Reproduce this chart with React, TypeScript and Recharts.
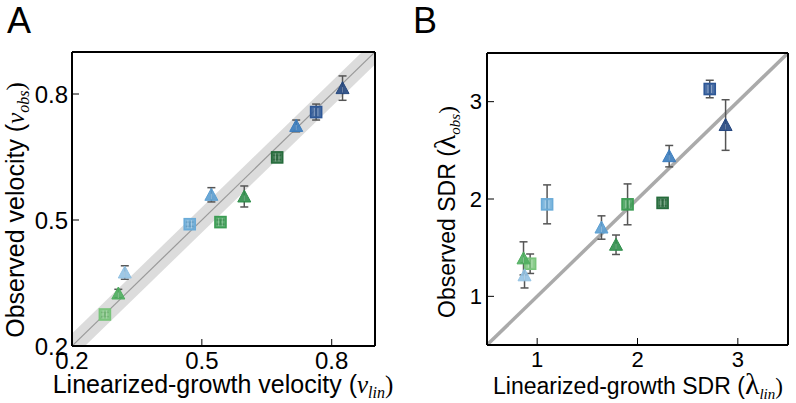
import React from "react"
import {
    ComposedChart,
    Scatter,
    Line,
    Area,
    XAxis,
    YAxis,
    ErrorBar,
} from "recharts"

// one entry per condition, same order in both panels
const markerShapes = ["square", "triangle", "triangle", "square", "triangle", "square", "triangle", "square", "triangle", "square", "triangle"]
const markerColors = ["#78c47a", "#4fae5f", "#93c2e3", "#6aabd8", "#5c9fd2", "#3b9c53", "#2e8e4a", "#256b3b", "#3a7cbe", "#2d5797", "#25477f"]

// panel A: velocities
const velLin = [0.276, 0.307, 0.322, 0.472, 0.522, 0.543, 0.598, 0.674, 0.718, 0.764, 0.825]
const velObs = [0.275, 0.325, 0.375, 0.49, 0.56, 0.495, 0.556, 0.649, 0.724, 0.757, 0.814]
const velErr = [0.005, 0.01, 0.016, 0.005, 0.017, 0.005, 0.025, 0.005, 0.014, 0.019, 0.029]
const velTicks = [0.2, 0.5, 0.8]
const velDomain = [0.2, 0.9]
const velBand = 0.03

// panel B: SDR
const sdrLin = [0.93, 0.864, 0.874, 1.099, 1.641, 1.901, 1.786, 2.25, 2.316, 2.72, 2.878]
const sdrObs = [1.335, 1.39, 1.216, 1.945, 1.707, 1.945, 1.53, 1.96, 2.44, 3.13, 2.76]
const sdrErr = [0.1, 0.17, 0.13, 0.2, 0.12, 0.21, 0.1, 0.03, 0.11, 0.09, 0.26]
const sdrTicks = [1, 2, 3]
const sdrDomain = [0.5, 3.5]

const velRows = velLin.map((x, k) => ({ x, y: velObs[k], err: velErr[k], k }))
const sdrRows = sdrLin.map((x, k) => ({ x, y: sdrObs[k], err: sdrErr[k], k }))
const velDiag = velDomain.map((x) => ({ x, y: x, band: [x - velBand, x + velBand] }))
const sdrDiag = sdrDomain.map((x) => ({ x, y: x }))

const SANS = "Liberation Sans, Arial, sans-serif"
const SERIF = "Liberation Serif, DejaVu Serif, serif"

function Marker(props: any) {
    const { cx, cy, payload } = props
    if (cx == null || cy == null) return null
    const c = markerColors[payload.k]
    if (markerShapes[payload.k] === "square") {
        const s = 5.5
        return (
            <g>
                <rect x={cx - s} y={cy - s} width={2 * s} height={2 * s} fill={c} fillOpacity={0.85} stroke={c} strokeWidth={1.6} />
                <line x1={cx - 1.8} x2={cx - 1.8} y1={cy - s + 1.5} y2={cy + s - 1.5} stroke="#fff" strokeOpacity={0.45} strokeWidth={0.8} />
                <line x1={cx + 1.8} x2={cx + 1.8} y1={cy - s + 1.5} y2={cy + s - 1.5} stroke="#fff" strokeOpacity={0.45} strokeWidth={0.8} />
            </g>
        )
    }
    const h = 6.5
    return (
        <g>
            <polygon points={`${cx},${cy - h} ${cx - h},${cy + h - 1} ${cx + h},${cy + h - 1}`} fill={c} fillOpacity={0.9} stroke={c} strokeWidth={1} />
            <line x1={cx} x2={cx} y1={cy - 1} y2={cy + h - 2} stroke="#fff" strokeOpacity={0.4} strokeWidth={0.8} />
        </g>
    )
}

const frame = { stroke: "#000", strokeWidth: 2 }
const tickLine = { stroke: "#000", strokeWidth: 1 }

function PanelA() {
    return (
        <div style={{ position: "absolute", left: 0, top: 0, width: 400, height: 403 }}>
            <ComposedChart width={400} height={403} margin={{ top: 42, right: 15, bottom: 27, left: 22 }} style={{ fontFamily: SANS }}>
                <XAxis type="number" dataKey="x" domain={velDomain} ticks={velTicks} allowDataOverflow height={30}
                       tickSize={-7} tickMargin={13} axisLine={frame} tickLine={tickLine} tick={{ fill: "#000", fontSize: 24 }} />
                <XAxis xAxisId="top" orientation="top" type="number" dataKey="x" domain={velDomain} ticks={velTicks} allowDataOverflow height={10}
                       tickSize={-7} axisLine={frame} tickLine={tickLine} tick={false} />
                <YAxis type="number" dataKey="y" domain={velDomain} ticks={velTicks} allowDataOverflow width={50}
                       tickSize={-7} tickMargin={11} axisLine={frame} tickLine={tickLine} tick={{ fill: "#000", fontSize: 24 }} />
                <YAxis yAxisId="right" orientation="right" type="number" domain={velDomain} ticks={velTicks} allowDataOverflow width={10}
                       tickSize={-7} axisLine={frame} tickLine={tickLine} tick={false} />
                <Area data={velDiag} dataKey="band" type="linear" fill="#dcdcdc" fillOpacity={1} stroke="none" isAnimationActive={false} />
                <Line data={velDiag} dataKey="y" type="linear" stroke="#999" strokeWidth={1.2} dot={false} isAnimationActive={false} />
                <Scatter data={velRows} dataKey="y" shape={(p: any) => <Marker {...p} />} isAnimationActive={false}>
                    <ErrorBar dataKey="err" direction="y" width={4} stroke="#555" strokeWidth={1.5} />
                </Scatter>
            </ComposedChart>
            <svg width={400} height={403} style={{ position: "absolute", left: 0, top: 0, pointerEvents: "none" }}>
                <text x={7} y={33} fontSize={36} fontFamily={SANS}>A</text>
                <text x={223} y={393} textAnchor="middle" fontSize={25} fontFamily={SANS}>
                    Linearized-growth velocity (<tspan fontFamily={SERIF} fontStyle="italic">v</tspan>
                    <tspan fontFamily={SERIF} fontStyle="italic" fontSize={16} dy={5}>lin</tspan>
                    <tspan fontFamily={SERIF} dy={-5}>)</tspan>
                </text>
                <text transform="translate(24,210) rotate(-90)" textAnchor="middle" fontSize={25} fontFamily={SANS}>
                    Observed velocity (<tspan fontFamily={SERIF} fontStyle="italic">v</tspan>
                    <tspan fontFamily={SERIF} fontStyle="italic" fontSize={16} dy={5}>obs</tspan>
                    <tspan fontFamily={SERIF} dy={-5}>)</tspan>
                </text>
            </svg>
        </div>
    )
}

function PanelB() {
    return (
        <div style={{ position: "absolute", left: 400, top: 0, width: 396, height: 403 }}>
            <ComposedChart width={396} height={403} margin={{ top: 43, right: 3, bottom: 28, left: 37 }} style={{ fontFamily: SANS }}>
                <XAxis type="number" dataKey="x" domain={sdrDomain} ticks={sdrTicks} allowDataOverflow height={30}
                       tickSize={-7} tickMargin={13} axisLine={frame} tickLine={tickLine} tick={{ fill: "#000", fontSize: 22 }} />
                <XAxis xAxisId="top" orientation="top" type="number" dataKey="x" domain={sdrDomain} ticks={sdrTicks} allowDataOverflow height={10}
                       tickSize={-7} axisLine={frame} tickLine={tickLine} tick={false} />
                <YAxis type="number" dataKey="y" domain={sdrDomain} ticks={sdrTicks} allowDataOverflow width={50}
                       tickSize={-7} tickMargin={12} axisLine={frame} tickLine={tickLine} tick={{ fill: "#000", fontSize: 22 }} />
                <YAxis yAxisId="right" orientation="right" type="number" domain={sdrDomain} ticks={sdrTicks} allowDataOverflow width={5}
                       tickSize={-7} axisLine={frame} tickLine={tickLine} tick={false} />
                <Line data={sdrDiag} dataKey="y" type="linear" stroke="#aaa" strokeWidth={3.5} dot={false} isAnimationActive={false} />
                <Scatter data={sdrRows} dataKey="y" shape={(p: any) => <Marker {...p} />} isAnimationActive={false}>
                    <ErrorBar dataKey="err" direction="y" width={4} stroke="#555" strokeWidth={1.5} />
                </Scatter>
            </ComposedChart>
            <svg width={396} height={403} style={{ position: "absolute", left: 0, top: 0, pointerEvents: "none" }}>
                <text x={13} y={33} fontSize={36} fontFamily={SANS}>B</text>
                <text x={238} y={394} textAnchor="middle" fontSize={23} fontFamily={SANS}>
                    Linearized-growth SDR (<tspan fontFamily={SERIF} fontSize={30}>λ</tspan>
                    <tspan fontFamily={SERIF} fontStyle="italic" fontSize={15} dy={5}>lin</tspan>
                    <tspan fontFamily={SERIF} dy={-5}>)</tspan>
                </text>
                <text transform="translate(55,212) rotate(-90)" textAnchor="middle" fontSize={23} fontFamily={SANS}>
                    Observed SDR (<tspan fontFamily={SERIF} fontSize={30}>λ</tspan>
                    <tspan fontFamily={SERIF} fontStyle="italic" fontSize={15} dy={5}>obs</tspan>
                    <tspan fontFamily={SERIF} dy={-5}>)</tspan>
                </text>
            </svg>
        </div>
    )
}

export default function App() {
    return (
        <div style={{ position: "absolute", left: 0, top: 0, width: 796, height: 403, background: "#fff" }}>
            <PanelA />
            <PanelB />
        </div>
    )
}
